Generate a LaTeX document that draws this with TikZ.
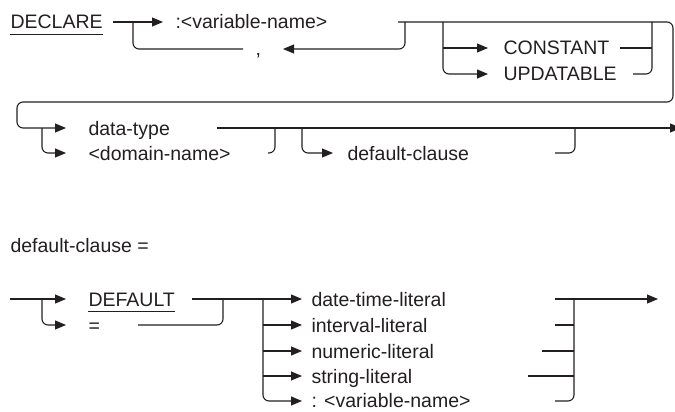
\documentclass[tikz,border=0pt]{standalone}
\usepackage{fontspec}
\setmainfont{Liberation Sans}
\usetikzlibrary{arrows.meta}
\definecolor{ink}{RGB}{35,31,32}
\begin{document}
\begin{tikzpicture}[x=1pt,y=-1pt,line width=1.1pt,draw=ink,
  rc/.style={rounded corners=6pt},
  arr/.style={-{Triangle[length=11pt,width=9pt]}},
  lbl/.style={anchor=base west,inner sep=0pt,font=\fontsize{19.5}{20}\selectfont,text=ink},
  uline/.style={line width=0.9pt}]
\useasboundingbox (0,0) rectangle (675,412);
\clip (0,0) rectangle (675,412);
% ---------- texts ----------
\node[lbl] (dec) at (10,29) {DECLARE};
\node[lbl] (var) at (175,29) {:<variable-name>};
\node[lbl] (comma) at (255,56) {,};
\node[lbl] (const) at (503,55) {CONSTANT};
\node[lbl] (upd) at (503,81) {UPDATABLE};
\node[lbl] (dt) at (88,135) {data-type};
\node[lbl] (dom) at (88,160) {<domain-name>};
\node[lbl] (dc) at (347,160) {default-clause};
\node[lbl] (dceq) at (10,252) {default-clause =};
\node[lbl] (def) at (88,306) {DEFAULT};
\node[lbl] (eq) at (88,332) {=};
\node[lbl] (dtl) at (311,306) {date-time-literal};
\node[lbl] (il) at (311,332) {interval-literal};
\node[lbl] (nl) at (311,358) {numeric-literal};
\node[lbl] (sl) at (311,383) {string-literal};
\node[lbl] (vn) at (311,407) {: <variable-name>};
\draw[uline] ([yshift=-5pt]dec.base west) -- ([yshift=-5pt]dec.base east);
\draw[uline] ([yshift=-5pt]def.base west) -- ([yshift=-5pt]def.base east);
% ---------- top section ----------
\coordinate (s1) at (113,22); \coordinate (s2) at (163,22);
\draw[arr] (s1) -- (s2);
\coordinate (c1) at (133,22); \coordinate (c2) at (243,49);
\draw[rc] (c2) -| (c1);
\coordinate (k1) at (405,22); \coordinate (k2) at (283,49);
\draw[rc,arr] (k1) |- (k2);
\coordinate (t0) at (398,22); \coordinate (t1) at (673,22);
\coordinate (t2) at (673,102); \coordinate (t3) at (17,102);
\coordinate (t4) at (17,128); \coordinate (t5) at (66,128);
\draw[rc,arr] (t0) -- (t1) -- (t2) -- (t3) -- (t4) -- (t5);
\coordinate (u0) at (443,22); \coordinate (u1) at (488,74);
\draw[rc,arr] (u0) |- (u1);
\coordinate (u2) at (443,48); \coordinate (u3) at (488,48);
\draw[arr] (u2) -- (u3);
\coordinate (v0) at (620,48); \coordinate (v1) at (652,48);
\draw (v0) -- (v1);
\coordinate (v2) at (633,74); \coordinate (v3) at (652,22);
\draw[rc] (v2) -| (v3);
% ---------- middle section ----------
\coordinate (w0) at (42,128); \coordinate (w1) at (66,153);
\draw[rc,arr] (w0) |- (w1);
\coordinate (m0) at (217,128); \coordinate (m1) at (681,128);
\draw[arr] (m0) -- (m1);
\coordinate (n0) at (268,153); \coordinate (n1) at (275,128);
\draw[rc] (n0) -| (n1);
\coordinate (p0) at (302,128); \coordinate (p1) at (333,153);
\draw[rc,arr] (p0) |- (p1);
\coordinate (q0) at (555,153); \coordinate (q1) at (575,128);
\draw[rc] (q0) -| (q1);
% ---------- bottom section ----------
\coordinate (b0) at (10,299); \coordinate (b1) at (66,299);
\draw[arr] (b0) -- (b1);
\coordinate (b2) at (42,299); \coordinate (b3) at (66,325);
\draw[rc,arr] (b2) |- (b3);
\coordinate (d0) at (192,299); \coordinate (d1) at (302,299);
\draw[arr] (d0) -- (d1);
\coordinate (e0) at (138,325); \coordinate (e1) at (223,299);
\draw[rc] (e0) -| (e1);
\coordinate (g0) at (263,299); \coordinate (g1) at (302,401);
\draw[rc,arr] (g0) |- (g1);
\coordinate (g2) at (263,325); \coordinate (g3) at (302,325);
\draw[arr] (g2) -- (g3);
\coordinate (g4) at (263,351); \coordinate (g5) at (302,351);
\draw[arr] (g4) -- (g5);
\coordinate (g6) at (263,376); \coordinate (g7) at (302,376);
\draw[arr] (g6) -- (g7);
\coordinate (h0) at (555,299); \coordinate (h1) at (658,299);
\draw[arr] (h0) -- (h1);
\coordinate (h2) at (555,401); \coordinate (h3) at (574,299);
\draw[rc] (h2) -| (h3);
\coordinate (h4) at (555,325); \coordinate (h5) at (574,325);
\draw (h4) -- (h5);
\coordinate (h6) at (542,351); \coordinate (h7) at (574,351);
\draw (h6) -- (h7);
\coordinate (h8) at (528,376); \coordinate (h9) at (574,376);
\draw (h8) -- (h9);
\end{tikzpicture}
\end{document}
